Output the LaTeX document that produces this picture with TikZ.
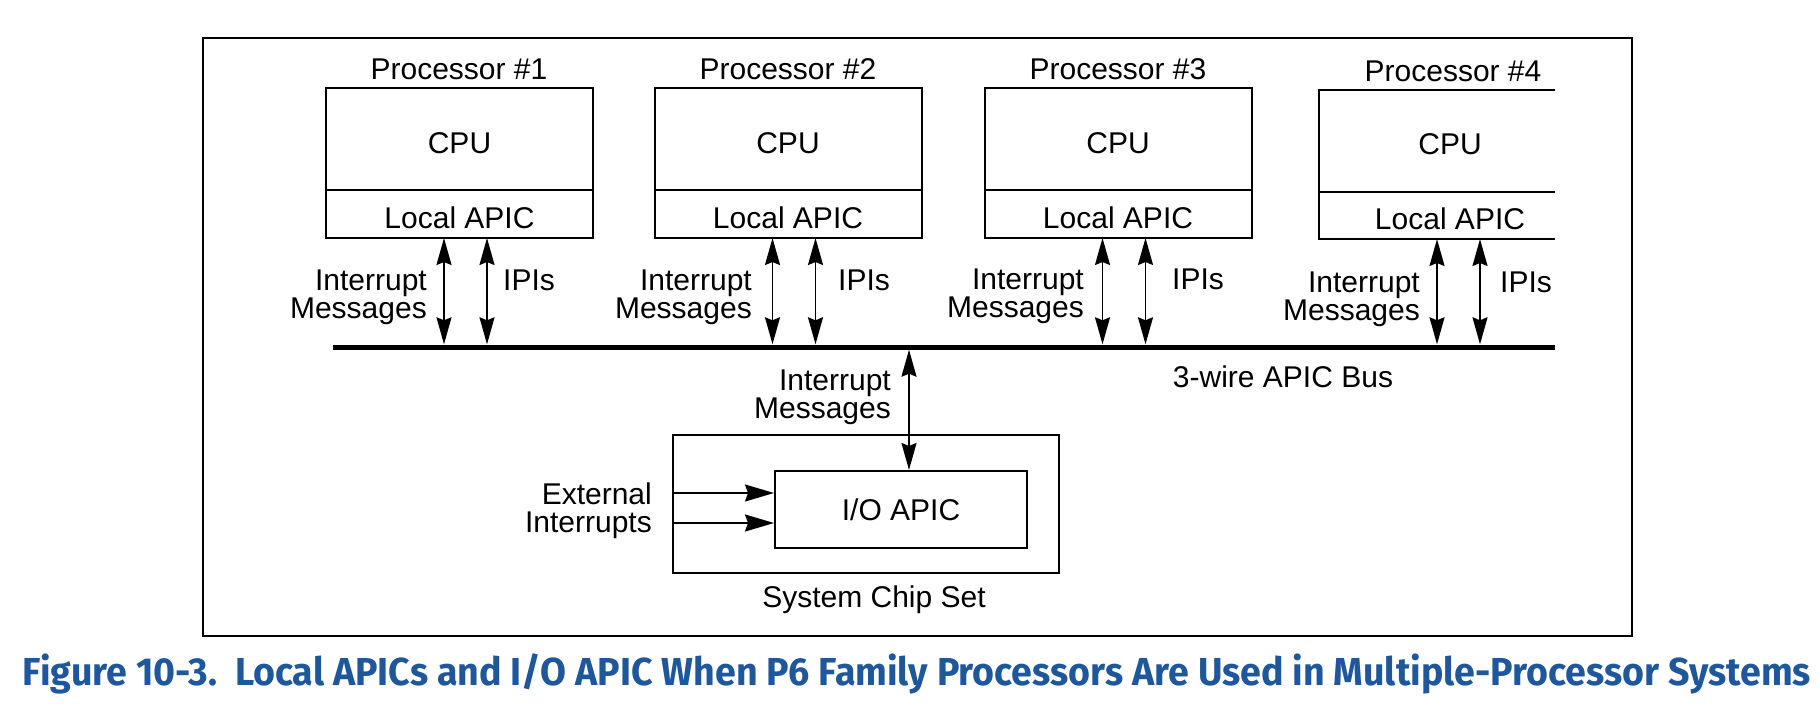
\documentclass[tikz,border=0pt]{standalone}
\usepackage{fontspec}
\usepackage{graphicx}
\setmainfont{Liberation Sans}
\newfontfamily\capfont{Fira Sans}
\usetikzlibrary{arrows.meta}
\definecolor{capblue}{RGB}{30,87,155}
\newcommand{\lowtxt}[2]{\raisebox{-#1}[\height][\depth]{#2}}
\begin{document}
\begin{tikzpicture}[x=1pt,y=-1pt,
  lbl/.style={font=\fontsize{30pt}{28pt}\selectfont, inner sep=0pt},
  box/.style={draw, line width=2pt, outer sep=0pt, minimum width=267pt, inner sep=0pt, font=\fontsize{30pt}{36pt}\selectfont},
  cpubox/.style={box, minimum height=102pt},
  apicbox/.style={box, minimum height=48pt},
  tipv/.tip={Stealth[length=27pt,width=15pt,inset=3pt]},
  dbl/.style={line width=1.8pt, tipv-tipv},
  sgl/.style={line width=1.8pt, -{Stealth[length=29pt,width=17pt,inset=3pt]}},
  thin/.style={line width=2pt}
]
\useasboundingbox (0,0) rectangle (1820,712);
\fill[white] (0,0) rectangle (1820,712);
\draw[thin] (203,38) rectangle (1632,636);

% bus
\node[fill, inner sep=0pt, minimum width=1222pt, minimum height=5pt] (bus) at (944,347) {};

% processors 1-3
\node[cpubox] (cpu1) at (459.5,139) {\lowtxt{4pt}{CPU}};
\node[apicbox, anchor=north] (apic1) at (cpu1.south) {\lowtxt{3.5pt}{Local APIC}};
\node[cpubox] (cpu2) at (788,139) {\lowtxt{4pt}{CPU}};
\node[apicbox, anchor=north] (apic2) at (cpu2.south) {\lowtxt{3.5pt}{Local APIC}};
\node[cpubox] (cpu3) at (1118,139) {\lowtxt{4pt}{CPU}};
\node[apicbox, anchor=north] (apic3) at (cpu3.south) {\lowtxt{3.5pt}{Local APIC}};
% processor 4 (open right side)
\node[cpubox, draw=none, minimum width=262pt] (cpu4) at (1450,141) {\lowtxt{3.5pt}{CPU}};
\node[apicbox, draw=none, minimum width=262pt, minimum height=47pt, anchor=north] (apic4) at (cpu4.south) {\lowtxt{3.5pt}{Local APIC}};
\draw[thin] (cpu4.north west -| bus.east) -- (cpu4.north west) -- (apic4.south west) -- (apic4.south west -| bus.east);
\draw[thin] (cpu4.south west) -- (cpu4.south west -| bus.east);

% processor labels
\node[lbl] (pl1) at (459,69) {Processor \#1};
\node[lbl] (pl2) at (788,69) {Processor \#2};
\node[lbl] (pl3) at (1118,69) {Processor \#3};
\node[lbl] (pl4) at (1453,71) {Processor \#4};

% arrows to bus
\foreach \i in {1,2,3,4}{
  \coordinate (m\i) at ([xshift=118pt]apic\i.south west);
  \coordinate (q\i) at ([xshift=161pt]apic\i.south west);
  \draw[dbl] (m\i) -- (m\i |- bus.north);
  \draw[dbl] (q\i) -- (q\i |- bus.north);
}

% labels by arrows
\node[lbl, align=right, anchor=east] (im1) at (427,297) {Interrupt\\Messages};
\node[lbl, align=right, anchor=east] (im2) at (752,297) {Interrupt\\Messages};
\node[lbl, align=right, anchor=east] (im3) at (1084,296) {Interrupt\\Messages};
\node[lbl, align=right, anchor=east] (im4) at (1420,299) {Interrupt\\Messages};
\node[lbl, anchor=west] (ip1) at (503,280) {IPIs};
\node[lbl, anchor=west] (ip2) at (838,280) {IPIs};
\node[lbl, anchor=west] (ip3) at (1172,279) {IPIs};
\node[lbl, anchor=west] (ip4) at (1500,282) {IPIs};

\node[lbl] (buslbl) at (1283,377) {3-wire APIC Bus};

% chip set
\node[draw, line width=2pt, minimum width=386pt, minimum height=138pt] (chip) at (866,504) {};
\node[draw, line width=2pt, minimum width=252pt, minimum height=77pt, lbl] (io) at (901,509.5) {I/O APIC};
\node[lbl] (chiplbl) at (874,600) {System Chip Set};

\coordinate (c) at ([xshift=8pt]io.north);
\draw[dbl] (c |- bus.south) -- (c);
\node[lbl, align=right, anchor=east] (imc) at (891,397.5) {Interrupt\\Messages};

\coordinate (e1) at ([yshift=16.5pt]io.west);
\coordinate (e2) at ([yshift=-13.5pt]io.west);
\draw[sgl] (e1 -| chip.west) -- (e1);
\draw[sgl] (e2 -| chip.west) -- (e2);
\node[lbl, align=right, anchor=east] (ext) at (652,510.5) {External\\Interrupts};

% caption
\node[inner sep=0pt, text=capblue] (cap) at (917,673.5) {\resizebox{1788pt}{\height}{\capfont\bfseries\fontsize{39pt}{42pt}\selectfont Figure 10-3.~~Local APICs and I/O APIC When P6 Family Processors Are Used in Multiple-Processor Systems}};
\end{tikzpicture}
\end{document}
